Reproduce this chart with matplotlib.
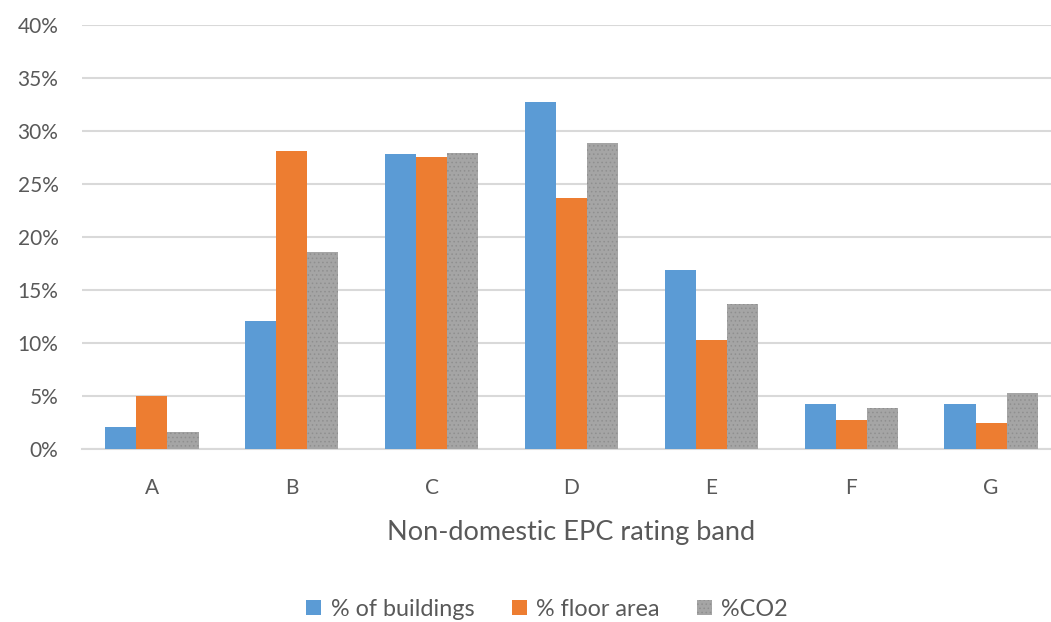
import matplotlib
matplotlib.use("Agg")
import matplotlib.pyplot as plt
import numpy as np

categories = ["A", "B", "C", "D", "E", "F", "G"]
pct_buildings = [2.05, 12.07, 27.8, 32.7, 16.9, 4.27, 4.27]
pct_floor_area = [5.03, 28.1, 27.5, 23.65, 10.25, 2.74, 2.48]
pct_co2 = [1.6, 18.6, 27.95, 28.9, 13.7, 3.84, 5.25]
series_names = ["% of buildings", "% floor area", "%CO2"]
yticks = [0, 5, 10, 15, 20, 25, 30, 35, 40]
ytick_labels = ["0%", "5%", "10%", "15%", "20%", "25%", "30%", "35%", "40%"]

plt.rcParams['font.family'] = ['Lato', 'DejaVu Sans']
plt.rcParams['hatch.linewidth'] = 0.6
text_color = "#595959"

W, H = 1051, 622
fig = plt.figure(figsize=(W / 100, H / 100), dpi=100)
left, right, bottom, top = 82, 1061, 449, 25
ax = fig.add_axes([left / W, 1 - bottom / H, (right - left) / W, (bottom - top) / H])

x = np.arange(len(categories))
bw = 0.222
colors = ["#5B9BD5", "#ED7D31", "#A5A5A5"]
data = [pct_buildings, pct_floor_area, pct_co2]
handles = []
for i, (vals, c, name) in enumerate(zip(data, colors, series_names)):
    kw = dict(color=c, linewidth=0, zorder=3, label=name)
    if i == 2:
        kw.update(hatch="....", edgecolor="#8f8f8f")
    b = ax.bar(x + (i - 1) * bw, vals, bw, **kw)
    handles.append(b)

ax.set_xlim(-0.5, len(categories) - 0.5)
ax.set_ylim(0, 40)
ax.set_yticks(yticks)
ax.set_yticklabels(ytick_labels)
ax.set_xticks(x)
ax.set_xticklabels(categories)
ax.yaxis.grid(True, color="#D9D9D9", linewidth=1.5, zorder=0)
ax.set_axisbelow(True)
for s in ["left", "right", "top"]:
    ax.spines[s].set_visible(False)
ax.spines["bottom"].set_color("#D9D9D9")
ax.spines["bottom"].set_linewidth(1.5)
ax.tick_params(axis="both", length=0, labelsize=15, labelcolor=text_color)
ax.tick_params(axis="y", pad=17)
ax.tick_params(axis="x", pad=21)
ax.set_xlabel("Non-domestic EPC rating band", fontsize=19.5, color=text_color, labelpad=16)

fig.legend(handles=handles, labels=series_names, loc="center",
           bbox_to_anchor=(547 / W, 1 - 609 / H), ncol=3, frameon=False,
           fontsize=16.8, labelcolor=text_color, handlelength=0.65, handleheight=0.65,
           handletextpad=0.4, columnspacing=1.6)

fig.savefig("out.png", dpi=100)
